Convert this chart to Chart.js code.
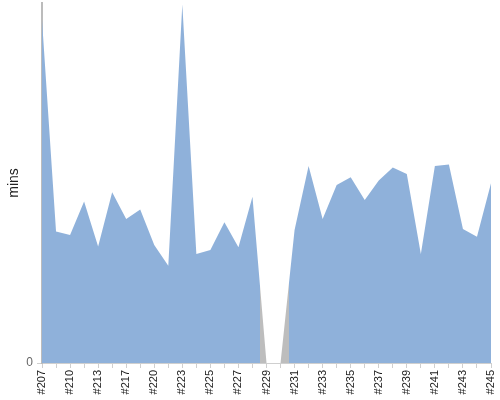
<!DOCTYPE html>
<html>
<head>
<meta charset="utf-8">
<script src="https://cdn.jsdelivr.net/npm/chart.js@4"></script>
<style>
  html, body { margin: 0; padding: 0; background: #fff; }
  #wrap { width: 500px; height: 400px; }
</style>
</head>
<body>
<div id="wrap"><canvas id="chart" width="500" height="400"></canvas></div>
<script>
// build ids shown along the x axis
const builds = [
  "#207", "#208", "#210", "#211", "#213", "#215", "#217", "#218", "#220", "#221",
  "#223", "#224", "#225", "#226", "#227", "#228", "#229", "#230", "#231", "#232",
  "#233", "#234", "#235", "#236", "#237", "#238", "#239", "#240", "#241", "#242",
  "#243", "#244", "#245",
];

// build duration, minutes
const mins = [
  114.3, 43.8, 42.7, 53.8, 38.8, 56.9, 48.0, 51.2, 39.3, 32.4,
  119.5, 36.3, 37.7, 46.9, 38.6, 55.4, 0, 0, 44.3, 65.7,
  48.0, 59.3, 61.9, 54.3, 60.8, 65.2, 63.0, 36.3, 65.7, 66.2,
  44.7, 42.1, 59.9,
];

const yTicks = [0];
const yMax = 120;

const BLUE = "#8fb1da";
const GREY = "#bdbdbd";

// blue fill, greyed out around the zero runs
function areaFill(ctx) {
  const chart = ctx.chart;
  const area = chart.chartArea;
  if (!area) return BLUE;
  const xs = chart.scales.x;
  const w = area.right - area.left;
  const step = xs.getPixelForValue(1) - xs.getPixelForValue(0);
  const g = chart.ctx.createLinearGradient(area.left, 0, area.right, 0);
  g.addColorStop(0, BLUE);
  let i = 0;
  while (i < mins.length) {
    if (mins[i] === 0) {
      let j = i;
      while (j + 1 < mins.length && mins[j + 1] === 0) j++;
      const a = (xs.getPixelForValue(Math.max(i - 1, 0)) + step * 0.57 - area.left) / w;
      const b = (xs.getPixelForValue(j) + step * 0.57 - area.left) / w;
      const ca = Math.min(Math.max(a, 0), 1);
      const cb = Math.min(Math.max(b, 0), 1);
      g.addColorStop(ca, BLUE);
      g.addColorStop(ca, GREY);
      g.addColorStop(cb, GREY);
      g.addColorStop(cb, BLUE);
      i = j + 1;
    } else {
      i++;
    }
  }
  g.addColorStop(1, BLUE);
  return g;
}

new Chart(document.getElementById("chart"), {
  type: "line",
  data: {
    labels: builds,
    datasets: [
      {
        label: "mins",
        data: mins,
        backgroundColor: areaFill,
        borderWidth: 0,
        borderColor: "rgba(0,0,0,0)",
        pointRadius: 0,
        tension: 0,
        fill: "origin",
      },
    ],
  },
  options: {
    responsive: false,
    animation: false,
    layout: { padding: { top: 3, right: 9, left: 0, bottom: 0 } },
    plugins: {
      legend: { display: false },
      tooltip: { enabled: false },
    },
    scales: {
      x: {
        offset: false,
        border: { color: "#cfcfcf" },
        grid: { drawOnChartArea: false, tickLength: 5, color: "#cfcfcf" },
        ticks: {
          autoSkip: false,
          minRotation: 90,
          maxRotation: 90,
          padding: 2,
          color: "#222",
          font: { family: "Liberation Sans, Arial", size: 11 },
          callback: (v, i) => (i % 2 === 0 ? builds[i] : ""),
        },
        afterFit: (s) => {
          s.height = 37;
          s.paddingLeft = 0;
          s.paddingRight = 0;
        },
      },
      y: {
        min: 0,
        max: yMax,
        border: { color: "#bcbcbc", width: 2 },
        grid: { drawOnChartArea: false, tickLength: 5, color: "#cfcfcf" },
        afterBuildTicks: (s) => { s.ticks = yTicks.map((v) => ({ value: v })); },
        ticks: {
          color: "#666",
          padding: 4,
          font: { family: "Liberation Sans, Arial", size: 12 },
        },
        title: {
          display: true,
          text: "mins",
          color: "#222",
          padding: { top: 6, bottom: 6 },
          font: { family: "Liberation Sans, Arial", size: 14 },
        },
        afterFit: (s) => {
          s.width = 42;
          s.paddingTop = 0;
          s.paddingBottom = 0;
        },
      },
    },
  },
});
</script>
</body>
</html>
